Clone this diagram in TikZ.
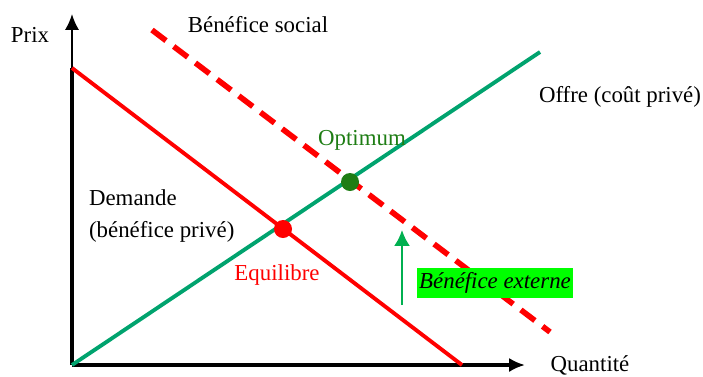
\documentclass[tikz,border=0pt]{standalone}
\usepackage{fontspec}
\setmainfont{Liberation Serif}
\usetikzlibrary{arrows.meta}
\definecolor{offregreen}{RGB}{0,163,110}
\definecolor{arrowgreen}{RGB}{0,176,80}
\definecolor{optgreen}{RGB}{30,125,20}
\definecolor{boxgreen}{RGB}{0,255,0}
\tikzset{
  axis/.style={line width=2.2pt, -{Latex[length=9pt,width=8pt]}},
  lbl/.style={font=\fontsize{13}{18}\selectfont, inner sep=1pt},
  dot/.style={circle, inner sep=0pt, minimum size=0.36cm}
}
\begin{document}
\begin{tikzpicture}
      \useasboundingbox (0,0) rectangle (14.06,7.52);
      % points
      \coordinate (O) at (1.44,0.22);
      \coordinate (ytop) at (1.44,7.24);
      \coordinate (xend) at (10.5,0.22);
      \coordinate (dem1) at (1.44,6.16);
      \coordinate (dem2) at (9.24,0.22);
      \coordinate (off2) at (10.8,6.48);
      \coordinate (soc1) at (3.04,6.92);
      \coordinate (soc2) at (11.0,0.88);
      \coordinate (ext1) at (8.04,1.42);
      \coordinate (ext2) at (8.04,2.92);
      % axes
      \draw[axis, line width=1.1pt] (O) -- (ytop);
      \draw[line width=2.2pt] (O) -- (dem1);
      \draw[axis] (O) -- (xend);
      % curves
      \draw[red, line width=2.2pt] (dem1) -- (dem2);
      \draw[offregreen, line width=2.2pt] (O) -- (off2);
      \draw[red, line width=3.2pt, dash pattern=on 10pt off 5.5pt] (soc1) -- (soc2);
      \draw[arrowgreen, line width=1.3pt, -{Latex[length=9pt,width=9pt]}] (ext1) -- (ext2);
      % points
      \node[dot, fill=red] (equ) at (5.66,2.94) {};
      \node[dot, fill=optgreen] (opt) at (7.0,3.88) {};
      % labels
      \node[lbl] (prix) at (0.6,6.82) {Prix};
      \node[lbl] (quant) at (11.8,0.22) {Quantité};
      \node[lbl] (social) at (5.16,7.02) {Bénéfice social};
      \node[lbl] (offre) at (12.4,5.58) {Offre (coût privé)};
      \node[lbl, text=optgreen] (optlbl) at (7.24,4.72) {Optimum};
      \node[lbl, text=red] (eqlbl) at (5.54,2.02) {Equilibre};
      \node[lbl, align=left, anchor=west] (demlbl) at (1.74,3.2) {Demande\\(bénéfice privé)};
      \node[lbl, fill=boxgreen, minimum width=3.08cm, minimum height=0.6cm] (extlbl) at (9.9,1.86) {\itshape Bénéfice externe};
\end{tikzpicture}
\end{document}
